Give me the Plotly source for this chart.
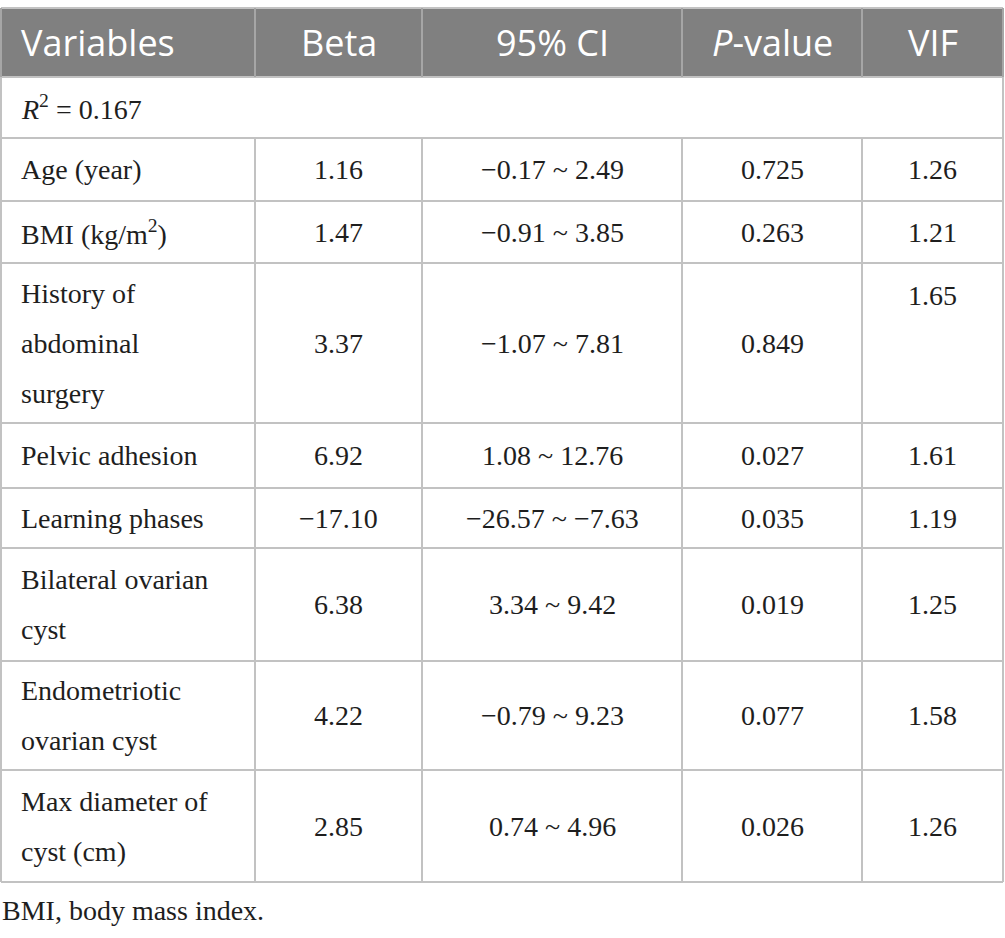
import plotly.graph_objects as go

# ---------------- data ----------------
columns = ["Variables", "Beta", "95% CI", "<i>P</i>-value", "VIF"]
r2_label = "<i>R</i><sup>2</sup> = 0.167"
variables = [
    "Age (year)",
    "BMI (kg/m<sup>2</sup>)",
    "History of|abdominal|surgery",
    "Pelvic adhesion",
    "Learning phases",
    "Bilateral ovarian|cyst",
    "Endometriotic|ovarian cyst",
    "Max diameter of|cyst (cm)",
]
beta = ["1.16", "1.47", "3.37", "6.92", "\u221217.10", "6.38", "4.22", "2.85"]
ci = [
    "\u22120.17 ~ 2.49",
    "\u22120.91 ~ 3.85",
    "\u22121.07 ~ 7.81",
    "1.08 ~ 12.76",
    "\u221226.57 ~ \u22127.63",
    "3.34 ~ 9.42",
    "\u22120.79 ~ 9.23",
    "0.74 ~ 4.96",
]
pvalue = ["0.725", "0.263", "0.849", "0.027", "0.035", "0.019", "0.077", "0.026"]
vif = ["1.26", "1.21", "1.65", "1.61", "1.19", "1.25", "1.58", "1.26"]
footnote = "BMI, body mass index."

# ---------------- layout constants ----------------
W, H = 1005, 936
col_edges = [1, 255, 422, 682, 862, 1003]
row_edges = [8, 77, 138, 201, 263, 423, 488, 548, 661, 770, 882]
line_gap = 50
left_pad = 18
top_aligned_vif_rows = {2}

header_fill = "#808080"
grid_color = "#c2c2c2"
text_color = "#1e1e1e"
serif = "Liberation Serif"
sans = "Open Sans"
body_size = 28
head_size = 36

shapes = []
annotations = []

# header background
shapes.append(dict(type="rect", xref="x", yref="y", x0=col_edges[0], x1=col_edges[-1],
                   y0=row_edges[0], y1=row_edges[1], fillcolor=header_fill,
                   line=dict(width=0), layer="below"))

# horizontal lines
for y in row_edges:
    shapes.append(dict(type="line", xref="x", yref="y", x0=col_edges[0], x1=col_edges[-1],
                       y0=y, y1=y, line=dict(color=grid_color, width=2)))

# vertical lines
for i in range(len(row_edges) - 1):
    y0, y1 = row_edges[i], row_edges[i + 1]
    if i == 1:  # merged R^2 row: only outer borders
        xs = [col_edges[0], col_edges[-1]]
    else:
        xs = col_edges
    for x in xs:
        color = "#a6a6a6" if i == 0 else grid_color
        shapes.append(dict(type="line", xref="x", yref="y", x0=x, x1=x, y0=y0, y1=y1,
                           line=dict(color=color, width=2)))


def cell_text(text, col, row, font, size, color):
    y0, y1 = row_edges[row], row_edges[row + 1]
    yc = (y0 + y1) / 2
    lines = text.split("|")
    n = len(lines)
    if col == 0:
        x, xa = col_edges[0] + left_pad, "left"
    else:
        x, xa = (col_edges[col] + col_edges[col + 1]) / 2, "center"
    for k, ln in enumerate(lines):
        yy = yc + (k - (n - 1) / 2) * line_gap
        annotations.append(dict(x=x, y=yy, xref="x", yref="y", text=ln, showarrow=False,
                                xanchor=xa, yanchor="middle",
                                font=dict(family=font, size=size, color=color)))


def first_line_y(row, n):
    y0, y1 = row_edges[row], row_edges[row + 1]
    yc = (y0 + y1) / 2
    return yc - (n - 1) / 2 * line_gap


# header
for c, h in enumerate(columns):
    cell_text(h, c, 0, sans, head_size, "white")

# R^2 row
annotations.append(dict(x=col_edges[0] + left_pad, y=(row_edges[1] + row_edges[2]) / 2,
                        xref="x", yref="y", text=r2_label, showarrow=False,
                        xanchor="left", yanchor="middle",
                        font=dict(family=serif, size=body_size, color=text_color)))

# body rows
for i in range(len(variables)):
    row = i + 2
    cell_text(variables[i], 0, row, serif, body_size, text_color)
    cell_text(beta[i], 1, row, serif, body_size, text_color)
    cell_text(ci[i], 2, row, serif, body_size, text_color)
    cell_text(pvalue[i], 3, row, serif, body_size, text_color)
    if i in top_aligned_vif_rows:
        n = len(variables[i].split("|"))
        annotations.append(dict(x=(col_edges[4] + col_edges[5]) / 2, y=first_line_y(row, n) + 2,
                                xref="x", yref="y", text=vif[i], showarrow=False,
                                xanchor="center", yanchor="middle",
                                font=dict(family=serif, size=body_size, color=text_color)))
    else:
        cell_text(vif[i], 4, row, serif, body_size, text_color)

# footnote
annotations.append(dict(x=0, y=910, xref="x", yref="y", text=footnote, showarrow=False,
                        xanchor="left", yanchor="middle",
                        font=dict(family=serif, size=body_size, color=text_color)))

fig = go.Figure()
fig.update_layout(
    width=W, height=H,
    margin=dict(l=0, r=0, t=0, b=0),
    paper_bgcolor="white", plot_bgcolor="white",
    xaxis=dict(range=[0, W], visible=False, fixedrange=True),
    yaxis=dict(range=[H, 0], visible=False, fixedrange=True),
    shapes=shapes, annotations=annotations, showlegend=False,
)
fig.write_html(
    "out.html",
    config={"displayModeBar": False},
    post_script="document.body.style.margin='0px';document.body.style.padding='0px';"
                "document.documentElement.style.overflow='hidden';",
)
